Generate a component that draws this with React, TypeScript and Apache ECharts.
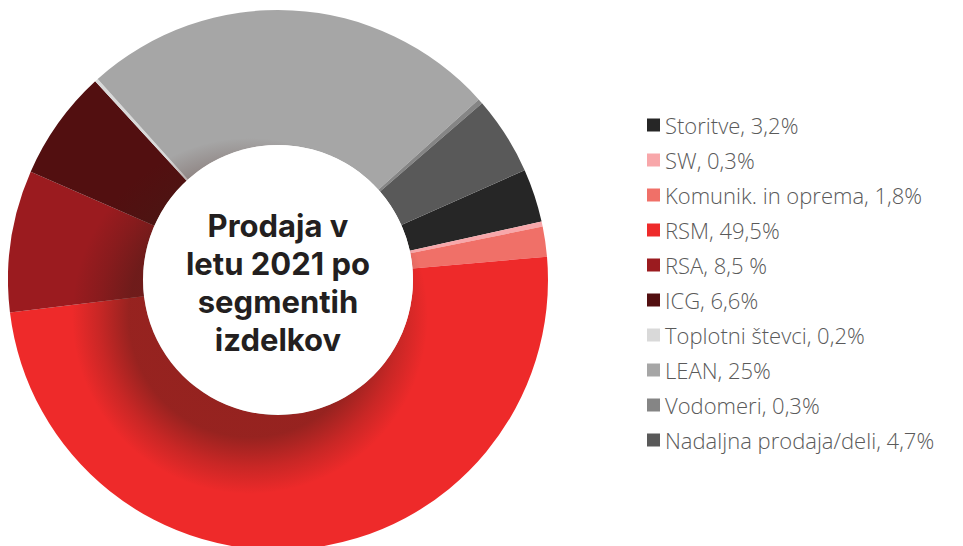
import React, { useEffect, useRef } from "react";
import * as echarts from "echarts";

const labels = [
  "Storitve, 3,2%",
  "SW, 0,3%",
  "Komunik. in oprema, 1,8%",
  "RSM, 49,5%",
  "RSA, 8,5 %",
  "ICG, 6,6%",
  "Toplotni števci, 0,2%",
  "LEAN, 25%",
  "Vodomeri, 0,3%",
  "Nadaljna prodaja/deli, 4,7%",
];
const values = [3.2, 0.3, 1.8, 49.5, 8.5, 6.6, 0.2, 25, 0.3, 4.7];
const colors = [
  "#262626",
  "#f8a7aa",
  "#f07068",
  "#ee2a2a",
  "#9b1b1f",
  "#520f10",
  "#d9d9d9",
  "#a6a6a6",
  "#858585",
  "#595959",
];
const centerLines = ["Prodaja v", "letu 2021 po", "segmentih", "izdelkov"];

export default function App() {
  const ref = useRef<HTMLDivElement>(null);
  useEffect(() => {
    if (!ref.current) return;
    const chart = echarts.init(ref.current, null, { renderer: "svg" });
    const cx = 270;
    const cy = 272;
    chart.setOption({
      animation: false,
      color: colors,
      legend: {
        orient: "vertical",
        left: 634,
        top: 101,
        itemWidth: 13,
        itemHeight: 13,
        itemGap: 13,
        icon: "rect",
        selectedMode: false,
        textStyle: {
          fontFamily: "Open Sans",
          fontWeight: 300,
          fontSize: 22,
          color: "#5a5a5a",
        },
        data: labels,
      },
      series: [
        {
          type: "pie",
          center: [cx, cy],
          radius: [135, 270],
          startAngle: 24,
          clockwise: true,
          label: { show: false },
          labelLine: { show: false },
          emphasis: { disabled: true },
          itemStyle: { borderWidth: 0 },
          data: labels.map((n, i) => ({ name: n, value: values[i] })),
        },
      ],
      graphic: [
        {
          type: "circle",
          z: 100,
          shape: { cx: cx - 28, cy: cy + 36, r: 178 },
          style: {
            fill: {
              type: "radial",
              x: 0.5,
              y: 0.5,
              r: 0.5,
              colorStops: [
                { offset: 0, color: "rgba(70,28,22,0.55)" },
                { offset: 0.68, color: "rgba(70,28,22,0.52)" },
                { offset: 0.85, color: "rgba(70,28,22,0.22)" },
                { offset: 1, color: "rgba(70,28,22,0)" },
              ],
            },
          },
        },
        {
          type: "circle",
          z: 101,
          shape: { cx, cy, r: 135 },
          style: { fill: "#ffffff" },
        },
        ...centerLines.map((t, i) => ({
          type: "text",
          z: 102,
          x: cx,
          y: cy - 55 + i * 38,
          style: {
            text: t,
            fontFamily: "Inter",
            fontWeight: "bold",
            fontSize: 31,
            fill: "#231f20",
            textAlign: "center",
            textVerticalAlign: "middle",
          },
        })),
      ],
    });
    return () => chart.dispose();
  }, []);
  return <div ref={ref} style={{ width: 955, height: 538 }} />;
}
